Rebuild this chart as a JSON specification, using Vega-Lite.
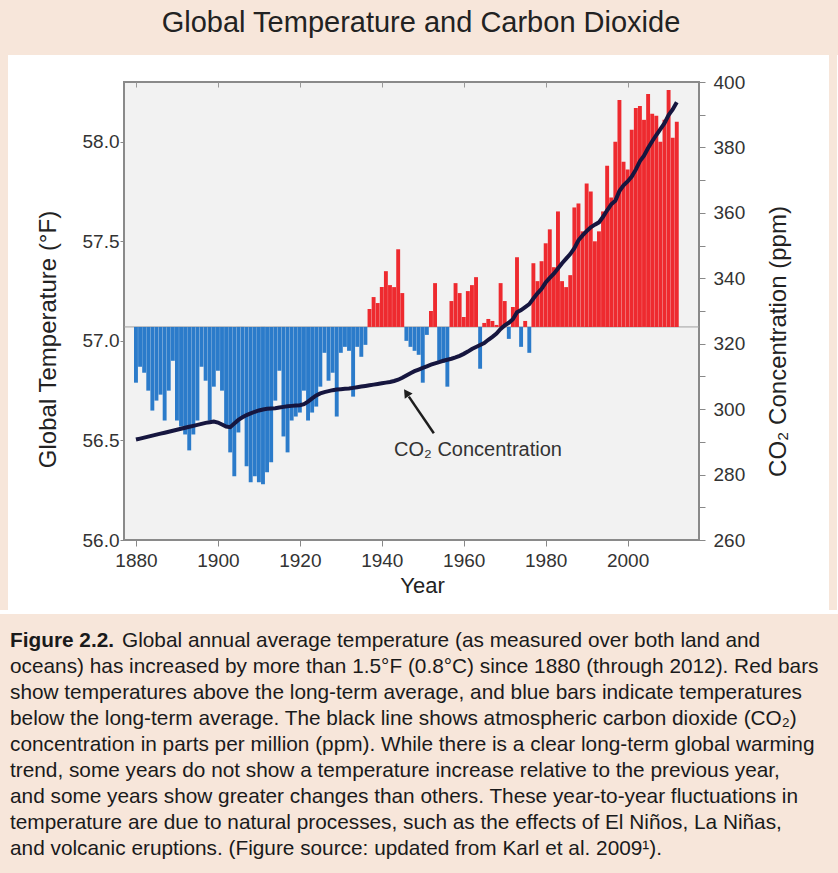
{
  "$schema": "https://vega.github.io/schema/vega-lite/v6.json",
  "background": "white",
  "padding": 0,
  "spacing": 0,
  "config": {"view": {"stroke": null}, "font": "Liberation Sans"},
  "datasets": {
    "temp": [
      {"year":1880,"temp":56.79,"co2":290.7},{"year":1881,"temp":56.87,"co2":291.0},{"year":1882,"temp":56.84,"co2":291.3},{"year":1883,"temp":56.75,"co2":291.6},{"year":1884,"temp":56.65,"co2":291.9},{"year":1885,"temp":56.70,"co2":292.2},{"year":1886,"temp":56.73,"co2":292.5},{"year":1887,"temp":56.60,"co2":292.8},{"year":1888,"temp":56.75,"co2":293.1},{"year":1889,"temp":56.90,"co2":293.4},
      {"year":1890,"temp":56.60,"co2":293.7},{"year":1891,"temp":56.57,"co2":294.0},{"year":1892,"temp":56.53,"co2":294.3},{"year":1893,"temp":56.45,"co2":294.6},{"year":1894,"temp":56.53,"co2":294.9},{"year":1895,"temp":56.60,"co2":295.2},{"year":1896,"temp":56.87,"co2":295.5},{"year":1897,"temp":56.80,"co2":295.8},{"year":1898,"temp":56.60,"co2":296.0},{"year":1899,"temp":56.77,"co2":296.2},
      {"year":1900,"temp":56.85,"co2":295.9},{"year":1901,"temp":56.75,"co2":295.3},{"year":1902,"temp":56.57,"co2":294.7},{"year":1903,"temp":56.44,"co2":294.5},{"year":1904,"temp":56.32,"co2":295.6},{"year":1905,"temp":56.54,"co2":296.7},{"year":1906,"temp":56.62,"co2":297.5},{"year":1907,"temp":56.37,"co2":298.2},{"year":1908,"temp":56.29,"co2":298.7},{"year":1909,"temp":56.32,"co2":299.2},
      {"year":1910,"temp":56.29,"co2":299.6},{"year":1911,"temp":56.28,"co2":299.9},{"year":1912,"temp":56.34,"co2":300.1},{"year":1913,"temp":56.39,"co2":300.2},{"year":1914,"temp":56.70,"co2":300.3},{"year":1915,"temp":56.85,"co2":300.5},{"year":1916,"temp":56.52,"co2":300.7},{"year":1917,"temp":56.44,"co2":300.9},{"year":1918,"temp":56.60,"co2":301.0},{"year":1919,"temp":56.62,"co2":301.1},
      {"year":1920,"temp":56.64,"co2":301.2},{"year":1921,"temp":56.75,"co2":301.5},{"year":1922,"temp":56.60,"co2":302.3},{"year":1923,"temp":56.64,"co2":303.3},{"year":1924,"temp":56.67,"co2":304.2},{"year":1925,"temp":56.77,"co2":304.8},{"year":1926,"temp":56.94,"co2":305.2},{"year":1927,"temp":56.80,"co2":305.5},{"year":1928,"temp":56.84,"co2":305.8},{"year":1929,"temp":56.62,"co2":306.0},
      {"year":1930,"temp":56.94,"co2":306.1},{"year":1931,"temp":56.97,"co2":306.2},{"year":1932,"temp":56.95,"co2":306.3},{"year":1933,"temp":56.72,"co2":306.5},{"year":1934,"temp":56.97,"co2":306.7},{"year":1935,"temp":56.92,"co2":306.9},{"year":1936,"temp":56.98,"co2":307.1},{"year":1937,"temp":57.16,"co2":307.3},{"year":1938,"temp":57.22,"co2":307.5},{"year":1939,"temp":57.19,"co2":307.7},
      {"year":1940,"temp":57.27,"co2":307.9},{"year":1941,"temp":57.35,"co2":308.1},{"year":1942,"temp":57.28,"co2":308.3},{"year":1943,"temp":57.27,"co2":308.6},{"year":1944,"temp":57.46,"co2":309.0},{"year":1945,"temp":57.24,"co2":309.6},{"year":1946,"temp":57.00,"co2":310.3},{"year":1947,"temp":56.97,"co2":311.0},{"year":1948,"temp":56.95,"co2":311.6},{"year":1949,"temp":56.93,"co2":312.1},
      {"year":1950,"temp":56.79,"co2":312.6},{"year":1951,"temp":57.03,"co2":313.1},{"year":1952,"temp":57.15,"co2":313.6},{"year":1953,"temp":57.29,"co2":314.0},{"year":1954,"temp":56.90,"co2":314.4},{"year":1955,"temp":56.89,"co2":314.8},{"year":1956,"temp":56.77,"co2":315.1},{"year":1957,"temp":57.20,"co2":315.4},{"year":1958,"temp":57.29,"co2":315.8},{"year":1959,"temp":57.24,"co2":316.3},
      {"year":1960,"temp":57.12,"co2":316.9},{"year":1961,"temp":57.25,"co2":317.6},{"year":1962,"temp":57.28,"co2":318.4},{"year":1963,"temp":57.32,"co2":319.0},{"year":1964,"temp":56.86,"co2":319.6},{"year":1965,"temp":57.09,"co2":320.2},{"year":1966,"temp":57.11,"co2":321.2},{"year":1967,"temp":57.10,"co2":322.1},{"year":1968,"temp":57.08,"co2":323.1},{"year":1969,"temp":57.29,"co2":324.5},
      {"year":1970,"temp":57.20,"co2":325.6},{"year":1971,"temp":57.01,"co2":326.4},{"year":1972,"temp":57.17,"co2":327.5},{"year":1973,"temp":57.42,"co2":329.6},{"year":1974,"temp":56.97,"co2":330.3},{"year":1975,"temp":57.10,"co2":331.2},{"year":1976,"temp":56.94,"co2":332.1},{"year":1977,"temp":57.39,"co2":333.8},{"year":1978,"temp":57.30,"co2":335.4},{"year":1979,"temp":57.40,"co2":336.8},
      {"year":1980,"temp":57.49,"co2":338.7},{"year":1981,"temp":57.56,"co2":340.1},{"year":1982,"temp":57.37,"co2":341.4},{"year":1983,"temp":57.65,"co2":343.0},{"year":1984,"temp":57.30,"co2":344.6},{"year":1985,"temp":57.27,"co2":346.0},{"year":1986,"temp":57.33,"co2":347.4},{"year":1987,"temp":57.67,"co2":349.2},{"year":1988,"temp":57.69,"co2":351.6},{"year":1989,"temp":57.55,"co2":353.1},
      {"year":1990,"temp":57.79,"co2":354.4},{"year":1991,"temp":57.75,"co2":355.6},{"year":1992,"temp":57.50,"co2":356.4},{"year":1993,"temp":57.55,"co2":357.1},{"year":1994,"temp":57.65,"co2":358.8},{"year":1995,"temp":57.88,"co2":360.8},{"year":1996,"temp":57.72,"co2":362.6},{"year":1997,"temp":58.00,"co2":363.7},{"year":1998,"temp":58.21,"co2":366.7},{"year":1999,"temp":57.90,"co2":368.4},
      {"year":2000,"temp":57.86,"co2":369.6},{"year":2001,"temp":58.06,"co2":371.1},{"year":2002,"temp":58.17,"co2":373.2},{"year":2003,"temp":58.18,"co2":375.8},{"year":2004,"temp":58.11,"co2":377.5},{"year":2005,"temp":58.24,"co2":379.8},{"year":2006,"temp":58.14,"co2":381.9},{"year":2007,"temp":58.13,"co2":383.8},{"year":2008,"temp":58.00,"co2":385.6},{"year":2009,"temp":58.11,"co2":387.4},
      {"year":2010,"temp":58.26,"co2":389.9},{"year":2011,"temp":58.02,"co2":391.6},{"year":2012,"temp":58.10,"co2":393.8}
    ]
  },
  "vconcat": [
    {
      "width": 838,
      "height": 55,
      "view": {"fill": "#f7e6da", "stroke": null},
      "data": {"values": [{"t": "Global Temperature and Carbon Dioxide"}]},
      "mark": {"type": "text", "fontSize": 29, "color": "#222222", "font": "Liberation Sans", "baseline": "middle", "dy": -5, "dx": 2},
      "encoding": {"text": {"field": "t"}}
    },
    {
      "spacing": 0,
      "hconcat": [
        {
          "width": 8, "height": 555,
          "view": {"fill": "#f7e6da", "stroke": null},
          "data": {"values": []}, "mark": "point", "encoding": {}
        },
        {
          "spacing": 0,
          "vconcat": [
            {"width": 1, "height": 17, "data": {"values": []}, "mark": "point", "encoding": {}},
            {
              "spacing": 0,
              "hconcat": [
                {"width": 27, "height": 1, "data": {"values": []}, "mark": "point", "encoding": {}},
                {
                  "width": 575,
                  "height": 458,
                  "view": {"fill": "#f2f2f2", "stroke": "#8a8a8a", "strokeWidth": 2},
                  "data": {"name": "temp"},
                  "layer": [
                    {
                      "layer": [
                        {
                          "data": {"values": [{"k": 1}]},
                          "mark": {"type": "rule", "color": "#a0a0a0", "strokeWidth": 1},
                          "encoding": {"y": {"datum": 57.07, "type": "quantitative"}}
                        },
                        {
                          "mark": {"type": "bar", "width": 3.9},
                          "encoding": {
                            "x": {
                              "field": "year", "type": "quantitative",
                              "scale": {"domain": [1878.3, 2016.2], "nice": false, "zero": false},
                              "axis": {
                                "title": "Year", "values": [1880, 1900, 1920, 1940, 1960, 1980, 2000], "format": "d",
                                "labelFontSize": 19, "titleFontSize": 22, "labelColor": "#333333", "titleColor": "#222222",
                                "titleFontWeight": "normal", "tickColor": "#888888", "domainColor": "#8a8a8a",
                                "tickSize": 6, "labelPadding": 5, "titlePadding": 5, "labelFlush": false, "grid": false,
                                "titleX": 298
                              }
                            },
                            "y": {
                              "field": "temp", "type": "quantitative",
                              "scale": {"domain": [56, 58.3], "nice": false, "zero": false},
                              "axis": {
                                "title": "Global Temperature (°F)", "values": [56, 56.5, 57, 57.5, 58], "format": ".1f",
                                "labelFontSize": 19, "titleFontSize": 24, "labelColor": "#333333", "titleColor": "#222222",
                                "titleFontWeight": "normal", "tickColor": "#888888", "domainColor": "#8a8a8a",
                                "tickSize": 4, "labelPadding": 1, "titlePadding": 22, "grid": false, "titleY": 257
                              }
                            },
                            "y2": {"datum": 57.07},
                            "color": {"condition": {"test": "datum.temp > 57.07", "value": "#ee2a2f"}, "value": "#2b7bca"}
                          }
                        },
                        {
                          "data": {"values": [{"k": 1}]},
                          "mark": {"type": "rule", "color": "#1e1e1e", "strokeWidth": 2.5},
                          "encoding": {
                            "x": {"datum": 1952.7, "type": "quantitative"},
                            "y": {"datum": 56.536, "type": "quantitative"},
                            "x2": {"datum": 1946.6},
                            "y2": {"datum": 56.72}
                          }
                        },
                        {
                          "data": {"values": [{"k": 1}]},
                          "mark": {"type": "point", "shape": "triangle-up", "angle": 326, "size": 90, "filled": true, "color": "#1e1e1e", "opacity": 1},
                          "encoding": {
                            "x": {"datum": 1946.0, "type": "quantitative"},
                            "y": {"datum": 56.74, "type": "quantitative"}
                          }
                        },
                        {
                          "data": {"values": [{"k": 1}]},
                          "mark": {"type": "text", "align": "left", "baseline": "middle", "fontSize": 20, "color": "#333333"},
                          "encoding": {
                            "x": {"datum": 1943.0, "type": "quantitative"},
                            "y": {"datum": 56.45, "type": "quantitative"},
                            "text": {"value": "CO₂ Concentration"}
                          }
                        }
                      ]
                    },
                    {
                      "mark": {"type": "line", "color": "#16163f", "strokeWidth": 4},
                      "encoding": {
                        "x": {
                          "field": "year", "type": "quantitative",
                          "axis": {"orient": "top", "labels": false, "title": null, "domain": false, "tickSize": -5, "tickColor": "#999999", "values": [1880, 1900, 1920, 1940, 1960, 1980, 2000], "grid": false}
                        },
                        "y": {
                          "field": "co2", "type": "quantitative",
                          "scale": {"domain": [260, 400], "nice": false, "zero": false},
                          "axis": {
                            "orient": "right", "title": "CO₂ Concentration (ppm)",
                            "values": [260, 270, 280, 290, 300, 310, 320, 330, 340, 350, 360, 370, 380, 390, 400],
                            "labelExpr": "datum.value % 20 == 0 ? datum.label : ''",
                            "labelFontSize": 19, "titleFontSize": 24, "labelColor": "#333333", "titleColor": "#222222",
                            "titleFontWeight": "normal", "tickColor": "#888888", "domainColor": "#8a8a8a",
                            "tickSize": 6, "labelPadding": 8, "titlePadding": 22, "grid": false,
                            "titleAngle": 270, "titleBaseline": "top", "titleY": 259
                          }
                        }
                      }
                    }
                  ],
                  "resolve": {"scale": {"y": "independent"}, "axis": {"x": "independent"}}
                }
              ]
            },
            {"width": 1, "height": 17, "data": {"values": []}, "mark": "point", "encoding": {}}
          ]
        },
        {"width": 37, "height": 1, "data": {"values": []}, "mark": "point", "encoding": {}},
        {
          "width": 8, "height": 555,
          "view": {"fill": "#f7e6da", "stroke": null},
          "data": {"values": []}, "mark": "point", "encoding": {}
        }
      ]
    },
    {
      "width": 838,
      "height": 263,
      "view": {"fill": "#f7e6da", "stroke": null},
      "data": {"values": [
        {"line": 0, "text": "Global annual average temperature (as measured over both land and"},
        {"line": 1, "text": "oceans) has increased by more than 1.5°F (0.8°C) since 1880 (through 2012). Red bars"},
        {"line": 2, "text": "show temperatures above the long-term average, and blue bars indicate temperatures"},
        {"line": 3, "text": "below the long-term average. The black line shows atmospheric carbon dioxide (CO₂)"},
        {"line": 4, "text": "concentration in parts per million (ppm). While there is a clear long-term global warming"},
        {"line": 5, "text": "trend, some years do not show a temperature increase relative to the previous year,"},
        {"line": 6, "text": "and some years show greater changes than others. These year-to-year fluctuations in"},
        {"line": 7, "text": "temperature are due to natural processes, such as the effects of El Niños, La Niñas,"},
        {"line": 8, "text": "and volcanic eruptions. (Figure source: updated from Karl et al. 2009¹)."}
      ]},
      "encoding": {
        "x": {"datum": 0, "type": "quantitative", "scale": {"domain": [0, 1]}, "axis": null},
        "y": {"field": "line", "type": "quantitative", "scale": {"domain": [-1.0385, 9.077], "reverse": true, "nice": false, "zero": false}, "axis": null}
      },
      "layer": [
        {
          "transform": [{"filter": "datum.line > 0"}],
          "mark": {"type": "text", "align": "left", "baseline": "middle", "fontSize": 20.8, "font": "Liberation Sans", "color": "#1a1a1a", "dx": 10},
          "encoding": {"text": {"field": "text"}}
        },
        {
          "transform": [{"filter": "datum.line == 0"}],
          "mark": {"type": "text", "align": "left", "baseline": "middle", "fontSize": 20.8, "font": "Liberation Sans", "color": "#1a1a1a", "dx": 122},
          "encoding": {"text": {"field": "text"}}
        },
        {
          "transform": [{"filter": "datum.line == 0"}],
          "mark": {"type": "text", "align": "left", "baseline": "middle", "fontSize": 20.8, "font": "Liberation Sans", "fontWeight": "bold", "color": "#1a1a1a", "dx": 10},
          "encoding": {"text": {"value": "Figure 2.2."}}
        }
      ]
    }
  ]
}
